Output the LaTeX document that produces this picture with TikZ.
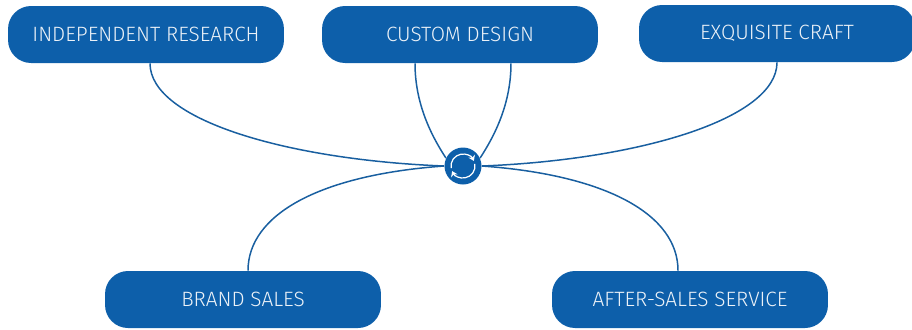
\documentclass[tikz,border=0pt]{standalone}
\usepackage{fontspec}
\setmainfont{Fira Sans Light}
\definecolor{boxblue}{RGB}{13,95,170}
\definecolor{linkblue}{RGB}{25,95,160}
\usetikzlibrary{arrows.meta}
\tikzset{
  stagebox/.style={draw=none, fill=boxblue, rounded corners=0.46cm, minimum width=5.52cm, minimum height=1.14cm, inner sep=0pt, text=white!92!boxblue, font=\fontsize{11.8}{13}\selectfont},
  link/.style={draw=linkblue, line width=0.85pt},
  hubdot/.style={circle, fill=boxblue, minimum size=0.74cm, inner sep=0pt},
  turn/.style={draw=white, line width=0.7pt, -{Stealth[length=3pt,width=4pt]}}
}
\begin{document}
\begin{tikzpicture}[x=0.02cm,y=-0.02cm]
\clip (0,0) rectangle (912,329);
\node [stagebox] (research) at (146,34.5) {INDEPENDENT RESEARCH};
\node [stagebox] (design) at (460,34.5) {CUSTOM DESIGN};
\node [stagebox] (craft) at (777,33.5) {EXQUISITE CRAFT};
\node [stagebox] (sales) at (243,299.5) {BRAND SALES};
\node [stagebox] (service) at (690,299.5) {AFTER-SALES SERVICE};
\node [hubdot] (hub) at (463,166) {};
% curves into the hub
\draw [link] ([xshift=0.08cm]research.south) .. controls +(0,57) and +(-155,-6) .. (hub.west);
\draw [link] ([xshift=-0.9cm]design.south) .. controls +(0,40) and +(-15,-23) .. (hub.155);
\draw [link] ([xshift=1.02cm]design.south) .. controls +(0,40) and +(15,-23) .. (hub.25);
\draw [link] (craft.south) .. controls +(0,57) and +(155,-6) .. (hub.east);
\draw [link] ([xshift=0.1cm]sales.north) .. controls +(0,-56) and +(-125,9) .. (hub.west);
\draw [link] ([xshift=-0.24cm]service.north) .. controls +(0,-56) and +(125,9) .. (hub.east);
% refresh arrows
\draw [turn] (hub.center) ++(190:0.24cm) arc (190:25:0.24cm);
\draw [turn] (hub.center) ++(10:0.24cm) arc (10:-155:0.24cm);
\end{tikzpicture}
\end{document}
